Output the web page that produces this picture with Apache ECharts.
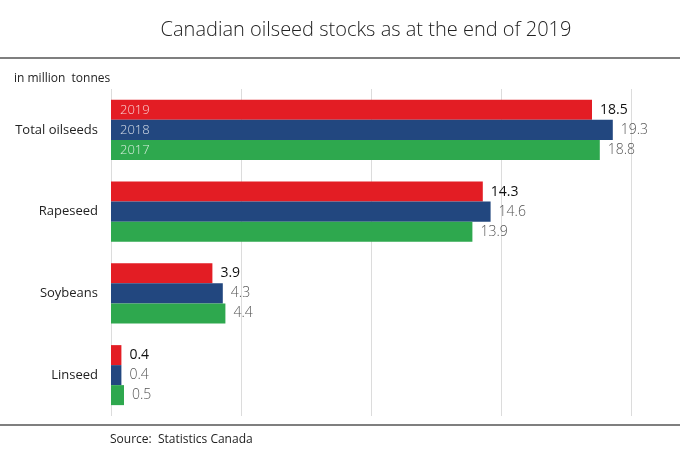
<!DOCTYPE html>
<html lang="en" style="height: 100%">
  <head>
    <meta charset="utf-8" />
  </head>
  <body style="height: 100%; margin: 0">
    <div id="container" style="height: 100%"></div>

    <script
      type="text/javascript"
      src="https://fastly.jsdelivr.net/npm/echarts@6/dist/echarts.min.js"
    ></script>

    <script type="text/javascript">
      var categories = ["Total oilseeds", "Rapeseed", "Soybeans", "Linseed"];
      var years = ["2019", "2018", "2017"];
      var values2019 = [18.5, 14.3, 3.9, 0.4];
      var values2018 = [19.3, 14.6, 4.3, 0.4];
      var values2017 = [18.8, 13.9, 4.4, 0.5];
      var colors = ["#e31d24", "#22477f", "#2ea84e"];

      var dom = document.getElementById("container");
      var myChart = echarts.init(dom, null, { renderer: "canvas" });
      var font = "Open Sans";

      function makeSeries(name, values, color, strong) {
        return {
          name: name,
          type: "bar",
          barGap: "0%",
          barCategoryGap: "26.6%",
          itemStyle: { color: color },
          label: {
            show: true,
            position: "right",
            distance: 8,
            fontFamily: font,
            fontSize: 14,
            fontWeight: strong ? "normal" : "lighter",
            color: strong ? "#111" : "#555",
            formatter: function (p) {
              return p.value.toFixed(1);
            },
          },
          data: values.map(function (v, i) {
            if (i !== 0) return v;
            // first group shows the year inside the bar
            return {
              value: v,
              label: {
                show: true,
                position: "insideLeft",
                distance: 9,
                fontFamily: font,
                fontSize: 13,
                fontWeight: "lighter",
                color: "rgba(255,255,255,0.8)",
                formatter: name,
              },
            };
          }),
        };
      }

      var series = [
        makeSeries(years[0], values2019, colors[0], true),
        makeSeries(years[1], values2018, colors[1], false),
        makeSeries(years[2], values2017, colors[2], false),
      ];

      var graphic = [
        {
          type: "line",
          shape: { x1: 0, y1: 58, x2: 680, y2: 58 },
          style: { stroke: "#555", lineWidth: 1.5 },
        },
        {
          type: "line",
          shape: { x1: 0, y1: 425, x2: 680, y2: 425 },
          style: { stroke: "#555", lineWidth: 1.5 },
        },
        {
          type: "text",
          left: 14,
          top: 73,
          style: {
            text: "in million  tonnes",
            font: "12px 'Open Sans'",
            fill: "#222",
          },
        },
        {
          type: "text",
          left: 110,
          top: 434,
          style: {
            text: "Source:  Statistics Canada",
            font: "12px 'Open Sans'",
            fill: "#222",
          },
        },
      ];

      var option = {
        animation: false,
        title: {
          text: "Canadian oilseed stocks as at the end of 2019",
          left: 361,
          top: 15,
          textAlign: "center",
          textStyle: {
            fontFamily: font,
            fontSize: 20,
            fontWeight: "lighter",
            color: "#222",
          },
        },
        graphic: graphic,
        grid: { left: 111, right: 49, top: 89, bottom: 50 },
        xAxis: {
          type: "value",
          min: 0,
          max: 20,
          interval: 5,
          axisLabel: { show: false },
          axisLine: { show: false },
          axisTick: { show: false },
          splitLine: { lineStyle: { color: "#dcdcdc" } },
        },
        yAxis: {
          type: "category",
          inverse: true,
          data: categories,
          axisLine: { show: false },
          axisTick: { show: false },
          axisLabel: {
            margin: 13,
            fontFamily: font,
            fontSize: 13,
            color: "#222",
          },
        },
        series: series,
      };

      myChart.setOption(option);

      // value labels of the first group, placed through the axis scale
      var extra = series.map(function (s, k) {
        var v = s.data[0].value;
        return {
          type: "text",
          z: 100,
          position: myChart.convertToPixel({ xAxisIndex: 0, yAxisIndex: 0 }, [v, 0]),
          style: {
            text: v.toFixed(1),
            font: (k === 0 ? "normal " : "300 ") + "14px 'Open Sans'",
            fill: k === 0 ? "#111" : "#555",
            x: 8,
            y: (k - 1) * 20,
            textVerticalAlign: "middle",
          },
        };
      });
      myChart.setOption({ graphic: graphic.concat(extra) });

      window.addEventListener("resize", myChart.resize);
    </script>
  </body>
</html>
